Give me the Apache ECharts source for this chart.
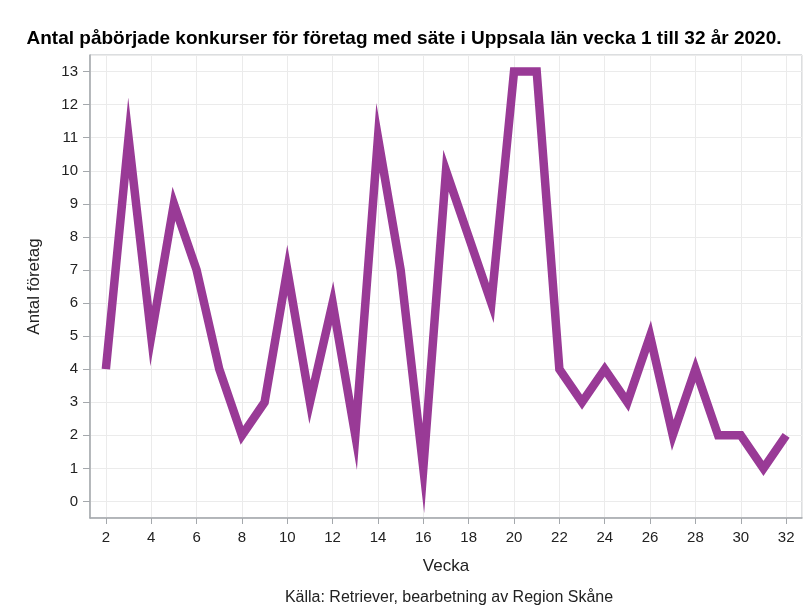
<!DOCTYPE html>
<html>
<head>
<meta charset="utf-8">
<script src="https://cdn.jsdelivr.net/npm/echarts@6/dist/echarts.min.js"></script>
<style>
  html, body { margin: 0; padding: 0; background: #fff; }
  #chart { width: 808px; height: 610px; }
</style>
</head>
<body>
<div id="chart"></div>
<script>
  // veckor och antal påbörjade konkurser
  const weeks = [2, 3, 4, 5, 6, 7, 8, 9, 10, 11, 12, 13, 14, 15, 16, 17, 18, 19, 20, 21, 22, 23, 24, 25, 26, 27, 28, 29, 30, 31, 32]
  const counts = [4, 11, 5, 9, 7, 4, 2, 3, 7, 3, 6, 2, 11, 7, 1, 10, 8, 6, 13, 13, 4, 3, 4, 3, 5, 2, 4, 2, 2, 1, 2]

  const titleText = 'Antal påbörjade konkurser för företag med säte i Uppsala län vecka 1 till 32 år 2020.'
  const sourceText = 'Källa: Retriever, bearbetning av Region Skåne'

  const font = 'Liberation Sans, Arial, sans-serif'
  const chart = echarts.init(document.getElementById('chart'))

  const option = {
    backgroundColor: '#fff',
    animation: false,
    title: [{
      text: titleText,
      left: 'center',
      top: 24,
      textStyle: { fontFamily: font, fontSize: 19, fontWeight: 'bold', color: '#000' }
    }, {
      text: sourceText,
      left: 444,
      textAlign: 'center',
      top: 585,
      textStyle: { fontFamily: font, fontSize: 16, fontWeight: 'normal', color: '#222' }
    }],
    grid: {
      left: 90,
      right: 6,
      top: 55,
      bottom: 92,
      show: true,
      borderColor: '#b8bcc0',
      borderWidth: 1
    },
    xAxis: {
      type: 'value',
      min: 1.3,
      max: 32.7,
      minInterval: 2,
      maxInterval: 2,
      name: 'Vecka',
      nameLocation: 'middle',
      nameGap: 40,
      nameTextStyle: { fontFamily: font, fontSize: 17, color: '#222' },
      axisLine: { show: true, onZero: false, lineStyle: { color: '#a4a8ac', width: 1.5 } },
      axisTick: { show: true, length: 6, lineStyle: { color: '#a4a8ac' } },
      axisLabel: { fontFamily: font, fontSize: 15, color: '#222', margin: 12, showMinLabel: false, showMaxLabel: false },
      splitLine: { show: true, lineStyle: { color: '#ebebeb', width: 1 } }
    },
    yAxis: {
      type: 'value',
      min: -0.5,
      max: 13.5,
      minInterval: 1,
      maxInterval: 1,
      name: 'Antal företag',
      nameLocation: 'middle',
      nameGap: 47,
      nameTextStyle: { fontFamily: font, fontSize: 17, color: '#222' },
      axisLine: { show: true, onZero: false, lineStyle: { color: '#a4a8ac', width: 1.5 } },
      axisTick: { show: true, length: 7, lineStyle: { color: '#a4a8ac' } },
      axisLabel: { fontFamily: font, fontSize: 15, color: '#222', margin: 12, showMinLabel: false, showMaxLabel: false },
      splitLine: { show: true, lineStyle: { color: '#ebebeb', width: 1 } }
    },
    series: [{
      type: 'line',
      data: weeks.map((w, i) => [w, counts[i]]),
      showSymbol: false,
      symbol: 'none',
      lineStyle: {
        color: '#993a96',
        width: 8.5,
        cap: 'butt',
        join: 'miter',
        miterLimit: 20
      }
    }]
  }

  chart.setOption(option)
</script>
</body>
</html>
